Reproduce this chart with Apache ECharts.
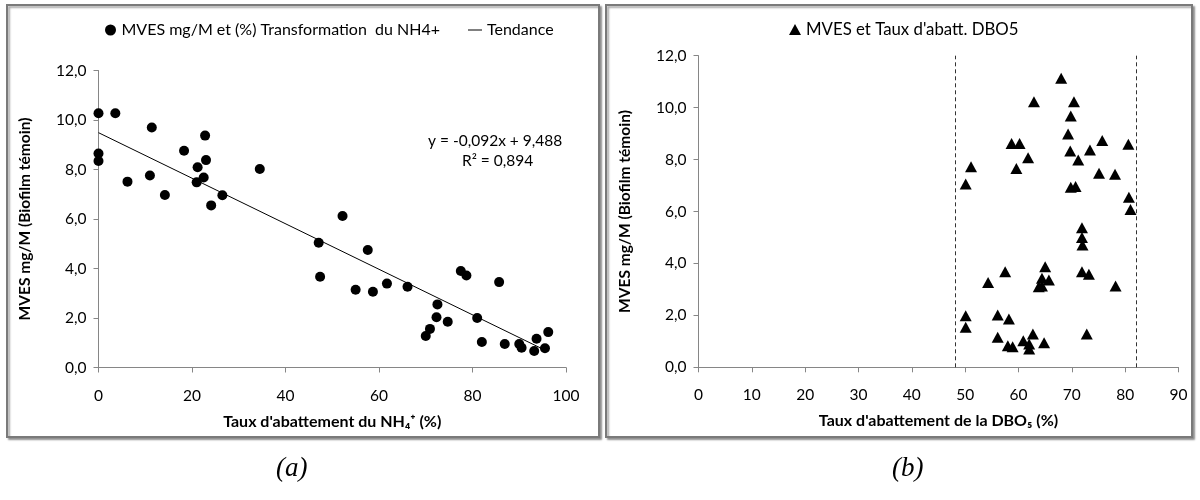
<!DOCTYPE html>
<html>
<head>
<meta charset="utf-8">
<script src="https://cdn.jsdelivr.net/npm/echarts@6/dist/echarts.min.js"></script>
<style>html,body{margin:0;padding:0;background:#fff;}#c{width:1200px;height:500px;}</style>
</head>
<body>
<div id="c"></div>
<script>
// ---- Data (a): NH4+ abatement (%) vs MVES mg/M
const nh4X = [0, 3.6, 11.4, 22.8, 18.3, 0, 23.0, 0, 21.2, 34.5, 6.2, 11.0, 22.5, 21.0, 14.2, 26.5, 24.1,
  52.2, 47.1, 57.6, 47.4, 55.0, 58.7, 61.7, 66.1, 77.5, 78.7, 85.7, 72.5, 72.3, 74.7, 70.9, 70.0,
  81.0, 82.0, 86.9, 90.0, 90.5, 93.2, 93.7, 95.5, 96.2];
const nh4Y = [10.27, 10.27, 9.70, 9.37, 8.76, 8.65, 8.38, 8.34, 8.09, 8.02, 7.51, 7.76, 7.68, 7.48, 6.97, 6.96, 6.55,
  6.12, 5.04, 4.75, 3.67, 3.14, 3.06, 3.39, 3.26, 3.90, 3.72, 3.45, 2.55, 2.03, 1.85, 1.56, 1.27,
  2.00, 1.03, 0.95, 0.95, 0.80, 0.67, 1.16, 0.78, 1.43];
// Trend line (from the equation shown on the chart)
const trendSlope = -0.092, trendIntercept = 9.488;
const trendRange = [0, 96];

// ---- Data (b): DBO5 abatement (%) vs MVES mg/M
const dboX = [68.0, 62.9, 70.4, 69.8, 69.3, 58.7, 60.2, 75.7, 80.6, 69.7, 73.4, 61.8, 71.2, 51.1, 59.6, 75.1,
  78.1, 50.1, 69.8, 70.7, 80.7, 81.0, 71.9, 71.9, 72.0, 71.9, 73.2, 57.5, 54.3, 65.0, 64.4, 65.7, 63.8, 64.4,
  78.2, 50.1, 50.1, 56.1, 58.2, 56.1, 58.0, 58.9, 60.9, 62.7, 62.0, 62.0, 64.8, 72.8];
const dboY = [11.13, 10.23, 10.23, 9.68, 8.98, 8.62, 8.62, 8.73, 8.59, 8.33, 8.37, 8.07, 7.98, 7.72, 7.66, 7.47,
  7.43, 7.06, 6.93, 6.96, 6.55, 6.08, 5.37, 5.00, 4.71, 3.68, 3.58, 3.68, 3.27, 3.87, 3.43, 3.36, 3.10, 3.13,
  3.13, 1.99, 1.54, 2.01, 1.86, 1.16, 0.83, 0.79, 1.02, 1.28, 0.90, 0.70, 0.95, 1.28];
const dboLimits = [48.1, 82.1];

// Tick settings
const yTicks = {min: 0, max: 12, interval: 2};
const xTicksA = {min: 0, max: 100, interval: 20};
const xTicksB = {min: 0, max: 90, interval: 10};

const nameA = 'MVES mg/M et (%) Transformation  du NH4+';
const nameTrend = 'Tendance';
const nameB = "MVES et Taux d'abatt. DBO5";

const font = 'Lato, "Open Sans", sans-serif';
const chart = echarts.init(document.getElementById('c'), null, {renderer: 'canvas'});

const trendData = trendRange.map(x => [x, trendSlope * x + trendIntercept]);

function yAxis(gridIndex) {
  return {
    type: 'value', gridIndex, min: yTicks.min, max: yTicks.max, interval: yTicks.interval,
    name: 'MVES mg/M (Biofilm témoin)', nameLocation: 'middle', nameGap: 66,
    nameTextStyle: {fontFamily: font, fontSize: 15.5, fontWeight: 'bold', color: '#000'},
    axisLine: {show: true, lineStyle: {color: '#868686', width: 1}},
    axisTick: {show: true, length: 5, lineStyle: {color: '#868686'}},
    splitLine: {show: false},
    axisLabel: {fontFamily: font, fontSize: 15.5, color: '#000', margin: 12,
      formatter: v => v.toFixed(1).replace('.', ',')}
  };
}
function xAxis(gridIndex, t, name) {
  return {
    type: 'value', gridIndex, min: t.min, max: t.max, interval: t.interval,
    name, nameLocation: 'middle', nameGap: 46,
    nameTextStyle: {fontFamily: font, fontSize: 16, fontWeight: 'bold', color: '#000'},
    axisLine: {show: true, onZero: false, lineStyle: {color: '#868686', width: 1}},
    axisTick: {show: true, length: 5, lineStyle: {color: '#868686'}},
    splitLine: {show: false},
    axisLabel: {fontFamily: font, fontSize: 15.5, color: '#000', margin: 20}
  };
}

function box(x, y, w, h) {
  return {type: 'rect', shape: {x, y, width: w, height: h}, silent: true, z: -1,
    style: {fill: '#fff', stroke: '#7a7a7a', lineWidth: 2,
      shadowColor: 'rgba(0,0,0,0.35)', shadowOffsetX: 2, shadowOffsetY: 2, shadowBlur: 2}};
}

const legendText = {fontFamily: font, fontSize: 16, color: '#000'};

chart.setOption({
  animation: false,
  backgroundColor: '#fff',
  grid: [
    {left: 98.5, top: 70.5, width: 467.5, height: 297},
    {left: 698.5, top: 55.7, width: 480, height: 311.6}
  ],
  xAxis: [
    xAxis(0, xTicksA, "Taux d'abattement du NH₄⁺ (%)"),
    xAxis(1, xTicksB, "Taux d'abattement de la DBO₅ (%)")
  ],
  yAxis: [yAxis(0), yAxis(1)],
  legend: [
    {data: [{name: nameA, icon: 'circle'}], left: 100, top: 17, itemGap: 30,
      itemWidth: 12, itemHeight: 11, textStyle: legendText},
    {data: [{name: nameTrend, icon: 'rect'}], left: 463, top: 17,
      itemWidth: 14, itemHeight: 1, itemGap: 3, textStyle: legendText},
    {data: [{name: nameB, icon: 'triangle'}], left: 784, top: 16, itemWidth: 12, itemHeight: 11,
      textStyle: {fontFamily: font, fontSize: 16.8, color: '#000'}}
  ],
  graphic: [
    box(7, 5, 592, 432),
    box(606, 5, 586, 432),
    {type: 'text', left: 428, top: 133, silent: true,
      style: {text: 'y = -0,092x + 9,488', font: '15.5px ' + font, fill: '#000'}},
    {type: 'text', left: 462, top: 153, silent: true,
      style: {text: 'R² = 0,894', font: '15.5px ' + font, fill: '#000'}},
    {type: 'text', left: 276, top: 455, silent: true,
      style: {text: '(a)', font: 'italic 27px "Liberation Serif", serif', fill: '#000'}},
    {type: 'text', left: 892, top: 455, silent: true,
      style: {text: '(b)', font: 'italic 27px "Liberation Serif", serif', fill: '#000'}}
  ],
  series: [
    {name: nameA, type: 'scatter', xAxisIndex: 0, yAxisIndex: 0, symbol: 'circle', symbolSize: 10,
      itemStyle: {color: '#000', opacity: 1}, z: 3,
      data: nh4X.map((x, i) => [x, nh4Y[i]])},
    {name: nameTrend, type: 'line', xAxisIndex: 0, yAxisIndex: 0, symbol: 'none', showSymbol: false,
      lineStyle: {color: '#000', width: 1}, itemStyle: {color: '#000'}, z: 2,
      data: trendData},
    {name: nameB, type: 'scatter', xAxisIndex: 1, yAxisIndex: 1, symbol: 'triangle', symbolSize: [12, 11],
      itemStyle: {color: '#000', opacity: 1},
      data: dboX.map((x, i) => [x, dboY[i]]),
      markLine: {silent: true, symbol: 'none', label: {show: false},
        lineStyle: {color: '#333', type: [4, 3], width: 1, opacity: 1},
        data: dboLimits.map(v => ({xAxis: v}))}}
  ]
});
</script>
</body>
</html>
